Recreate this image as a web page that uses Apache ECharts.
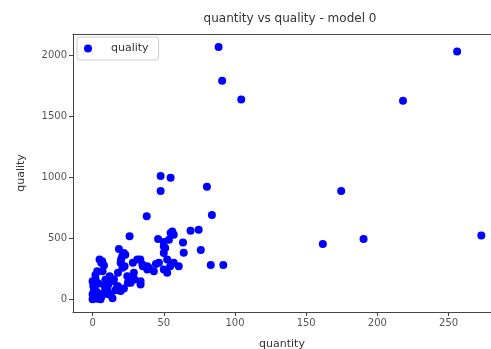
<!DOCTYPE html>
<html>
<head>
<meta charset="utf-8">
<script src="https://cdn.jsdelivr.net/npm/echarts@6/dist/echarts.min.js"></script>
<style>
html,body{margin:0;padding:0;background:#fff;}
#c{width:491px;height:349px;}
</style>
</head>
<body>
<div id="c"></div>
<script>
var titleText = "quantity vs quality - model 0";
var seriesName = "quality";
var xName = "quantity";
var yName = "quality";
var xTicks = [0, 50, 100, 150, 200, 250];
var yTicks = [0, 500, 1000, 1500, 2000];

var quantity = [88.5,91,104.4,256,218,174.6,161.7,190.3,273,80.3,83.8,74.5,68.8,76,83,91.8,47.8,54.8,47.8,38,
26,56,57,46,53.6,50,50,63.5,64,51,50,54.8,33.5,38.4,44.5,52.4,54.5,60.5,52.4,39.5,
57,50,35,31.4,23,21,18.5,22,20.8,6.8,8,19.7,46.6,3.3,2.1,15,24.4,29,38.4,43,
1,10.3,17.3,26.7,33.7,2,5.6,12.6,19.7,4.9,6.1,20,22.5,17.8,28.3,35.3,1.4,0,8.4,13.1,
17.8,24.8,29.5,10.8,0,0,1,3,6,8,11,14,16,22,27,33.7,2,0.5,4,9,12,7,3,1];
var quality = [2068,1791,1637,2030,1626,888,453,494,524,923,692,570,562,405,282,282,1010,996,888,680,
516,556,529,495,489,470,434,465,382,420,380,543,326,271,290,326,271,271,217,258,
299,244,285,326,366,258,413,380,353,312,277,299,299,231,163,163,190,217,244,230,
81,81,108,136,122,27,0,41,68,326,299,326,271,217,299,271,95,41,108,149,
108,136,163,41,149,0,15,60,20,55,120,10,75,90,170,149,200,110,130,160,190,230,5,40];

var pts = [];
for (var i = 0; i < quantity.length; i++) pts.push([quantity[i], quality[i]]);

var chart = echarts.init(document.getElementById('c'));
var font = 'DejaVu Sans';
var plain = function (v) { return String(v); };
chart.setOption({
  animation: false,
  backgroundColor: '#fff',
  title: {
    text: titleText, left: 285, top: 8, textAlign: 'center',
    textStyle: {fontFamily: font, fontSize: 12, fontWeight: 'normal', color: '#333'}
  },
  legend: {
    data: [seriesName], left: 77, top: 37,
    padding: [6, 10, 6, 7],
    borderColor: '#ccc', borderWidth: 1, borderRadius: 3,
    itemWidth: 26, itemHeight: 8, icon: 'circle',
    textStyle: {fontFamily: font, fontSize: 11, color: '#333', padding: [0, 0, 0, 5]}
  },
  grid: {left: 73, top: 34, right: 0, bottom: 37, show: false, containLabel: false, outerBoundsMode: 'none'},
  xAxis: [{
    type: 'value', min: -13.75, max: 279.8,
    name: xName, nameLocation: 'middle', nameGap: 27,
    nameTextStyle: {fontFamily: font, fontSize: 11, color: '#333'},
    splitLine: {show: false},
    axisLine: {show: true, onZero: false, lineStyle: {color: '#444'}},
    axisTick: {show: true, length: 4, customValues: xTicks, lineStyle: {color: '#444'}},
    axisLabel: {customValues: xTicks, formatter: plain, fontFamily: font, fontSize: 10, color: '#555', margin: 6}
  }, {
    type: 'value', position: 'top', min: -13.75, max: 279.8,
    splitLine: {show: false},
    axisLine: {show: true, onZero: false, lineStyle: {color: '#444'}},
    axisTick: {show: false}, axisLabel: {show: false}
  }],
  yAxis: {
    type: 'value', min: -103.5, max: 2173.5,
    name: yName, nameLocation: 'middle', nameGap: 46, nameRotate: 90,
    nameTextStyle: {fontFamily: font, fontSize: 11, color: '#333'},
    splitLine: {show: false},
    axisLine: {show: true, onZero: false, lineStyle: {color: '#444'}},
    axisTick: {show: true, length: 4, customValues: yTicks, lineStyle: {color: '#444'}},
    axisLabel: {customValues: yTicks, formatter: plain, fontFamily: font, fontSize: 10, color: '#555', margin: 6}
  },
  series: [{
    name: seriesName, type: 'scatter', data: pts, symbolSize: 8, xAxisIndex: 0,
    itemStyle: {color: '#0000ff', opacity: 1}
  }]
});
</script>
</body>
</html>
